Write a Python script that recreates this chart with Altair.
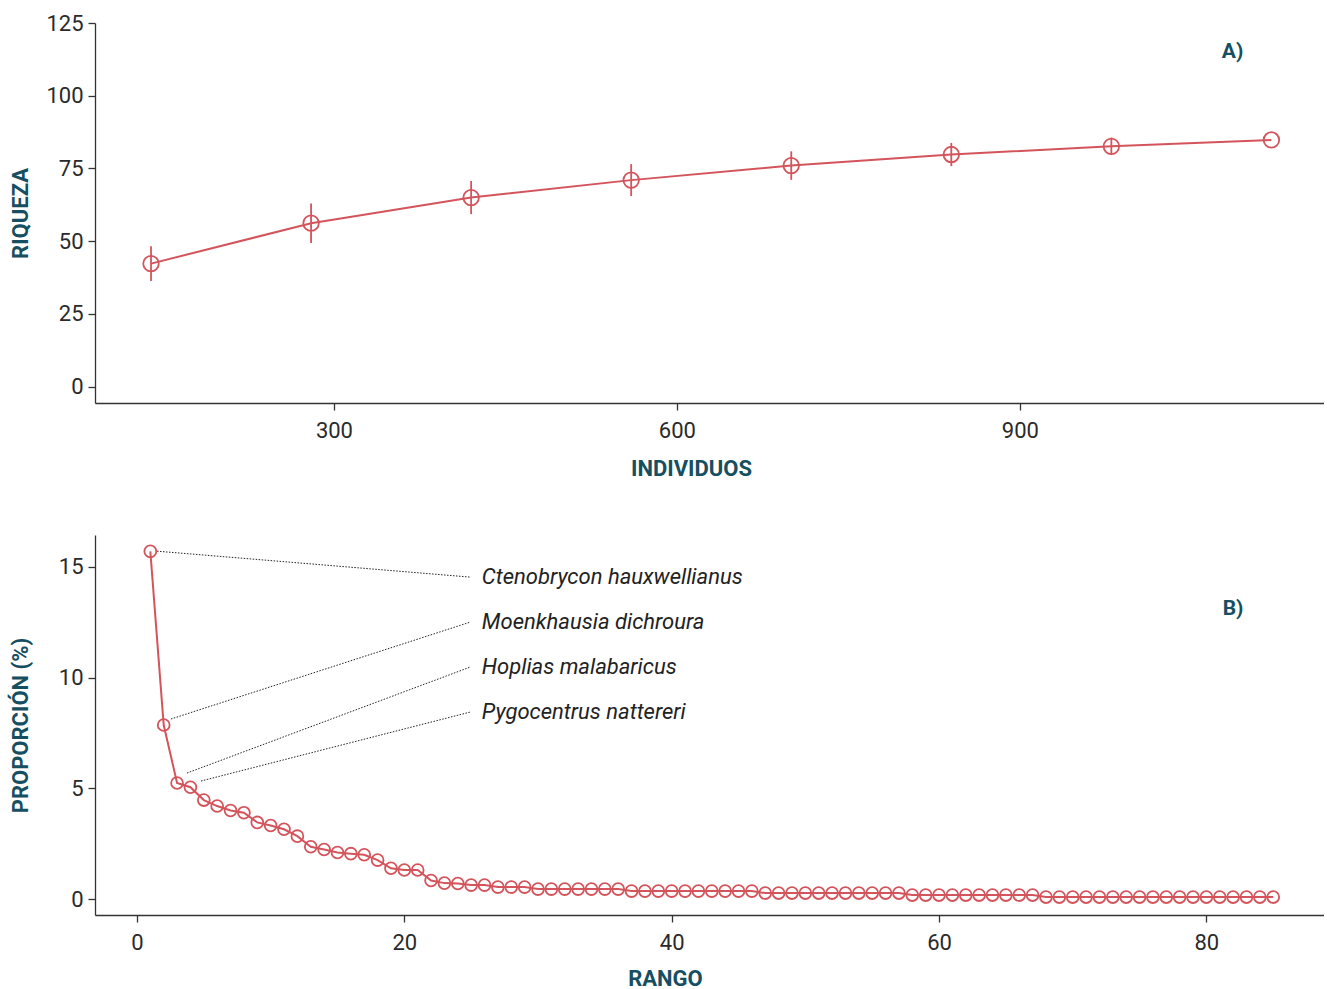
import altair as alt
import pandas as pd

# ---- Panel A data ----
individuos = [140, 280, 420, 560, 700, 840, 980, 1120]
riqueza = [42.3, 56.2, 65.0, 71.0, 76.0, 79.8, 82.6, 84.8]
error_riqueza = [6.0, 6.8, 5.7, 5.5, 4.9, 4.0, 3.0, 0.0]

# ---- Panel B data ----
rango = list(range(1, 86))
proporcion = ([15.7, 7.86, 5.24, 5.05, 4.47, 4.2, 4.0, 3.9, 3.46, 3.32, 3.15,
               2.84, 2.36, 2.24, 2.1, 2.05, 2.0, 1.76, 1.39, 1.31, 1.31, 0.84,
               0.72, 0.70, 0.63, 0.63, 0.54, 0.54, 0.54]
              + [0.45] * 7 + [0.36] * 10 + [0.27] * 11 + [0.18] * 10 + [0.09] * 18)

especies = ["Ctenobrycon hauxwellianus", "Moenkhausia dichroura",
            "Hoplias malabaricus", "Pygocentrus nattereri"]
# annotation anchors (data units)
leader_x0 = [1.5, 2.54, 3.74, 4.79]
leader_y0 = [15.71, 8.13, 5.69, 5.33]
leader_x1 = [24.9, 24.9, 24.9, 24.9]
label_x = [25.8, 25.8, 25.8, 25.8]
label_y = [14.54, 12.5, 10.47, 8.44]

RED = "#d4545c"
TEAL = "#164f61"
FONT = "Roboto"

df_a = pd.DataFrame({"individuos": individuos, "riqueza": riqueza,
                     "lo": [r - e for r, e in zip(riqueza, error_riqueza)],
                     "hi": [r + e for r, e in zip(riqueza, error_riqueza)]})
df_b = pd.DataFrame({"rango": rango, "proporcion": proporcion})
df_lab = pd.DataFrame({"especie": especies, "x0": leader_x0, "y0": leader_y0,
                       "x1": leader_x1, "lx": label_x, "ly": label_y})

W, H = 1229, 380

xa = alt.X("individuos:Q",
           scale=alt.Scale(domain=[91, 1166], nice=False, zero=False),
           axis=alt.Axis(values=[300, 600, 900], title="INDIVIDUOS",
                         titleX=596, titleY=65, titleBaseline="middle"))
ya = alt.Y("riqueza:Q",
           scale=alt.Scale(domain=[-5.6, 125], nice=False),
           axis=alt.Axis(values=[0, 25, 50, 75, 100, 125], title="RIQUEZA",
                         titleX=-75, titleY=190, titleBaseline="middle"))

base_a = alt.Chart(df_a)
err = base_a.mark_rule(color=RED, strokeWidth=1.8).encode(
    x=xa, y=alt.Y("lo:Q", scale=alt.Scale(domain=[-5.6, 125], nice=False)), y2="hi:Q")
line_a = base_a.mark_line(color=RED, strokeWidth=2).encode(x=xa, y=ya)
pts_a = base_a.mark_point(shape="circle", filled=False, color=RED, size=240,
                          strokeWidth=1.8, opacity=1).encode(x=xa, y=ya)
lab_a = alt.Chart(pd.DataFrame({"t": ["A)"], "x": [1086], "y": [115]})).mark_text(
    font=FONT, fontSize=21, fontWeight="bold", color=TEAL, align="center",
    baseline="middle").encode(x="x:Q", y="y:Q", text="t:N")

top = alt.layer(err, line_a, pts_a, lab_a).properties(width=W, height=H)

xb = alt.X("rango:Q",
           scale=alt.Scale(domain=[-3.14, 88.8], nice=False, zero=False),
           axis=alt.Axis(values=[0, 20, 40, 60, 80], title="RANGO",
                         titleX=570, titleY=63, titleBaseline="middle"))
yb = alt.Y("proporcion:Q",
           scale=alt.Scale(domain=[-0.72, 16.44], nice=False),
           axis=alt.Axis(values=[0, 5, 10, 15], title="PROPORCIÓN (%)",
                         titleX=-75, titleY=190, titleBaseline="middle"))

base_b = alt.Chart(df_b)
line_b = base_b.mark_line(color=RED, strokeWidth=2).encode(x=xb, y=yb)
pts_b = base_b.mark_point(shape="circle", filled=False, color=RED, size=140,
                          strokeWidth=1.8, opacity=1).encode(x=xb, y=yb)
leaders = alt.Chart(df_lab).mark_rule(color="#222", strokeWidth=1,
                                      strokeDash=[1.5, 1.5]).encode(
    x="x0:Q", y="y0:Q", x2="x1:Q", y2="ly:Q")
labels = alt.Chart(df_lab).mark_text(font=FONT, fontSize=22, fontStyle="italic",
                                     color="#222", align="left",
                                     baseline="middle").encode(
    x="lx:Q", y="ly:Q", text="especie:N")
lab_b = alt.Chart(pd.DataFrame({"t": ["B)"], "x": [82.0], "y": [13.1]})).mark_text(
    font=FONT, fontSize=21, fontWeight="bold", color=TEAL, align="center",
    baseline="middle").encode(x="x:Q", y="y:Q", text="t:N")

bottom = alt.layer(leaders, line_b, pts_b, labels, lab_b).properties(width=W, height=H)

chart = alt.vconcat(top, bottom, spacing=56).properties(
    padding={"left": 9, "top": 12, "right": 0, "bottom": 0}
).configure_view(stroke=None).configure_axis(
    grid=False, domainColor="#333", domainWidth=1.3, tickColor="#333",
    tickWidth=1.3, tickSize=7, labelFont=FONT, labelFontSize=22,
    labelColor="#2a2a2a", labelPadding=5, titleFont=FONT, titleFontSize=22,
    titleFontWeight="bold", titleColor=TEAL
).configure_axisX(labelPadding=10).configure_concat(spacing=56)

chart.save("out.html", embed_options={"renderer": "svg", "actions": False})
